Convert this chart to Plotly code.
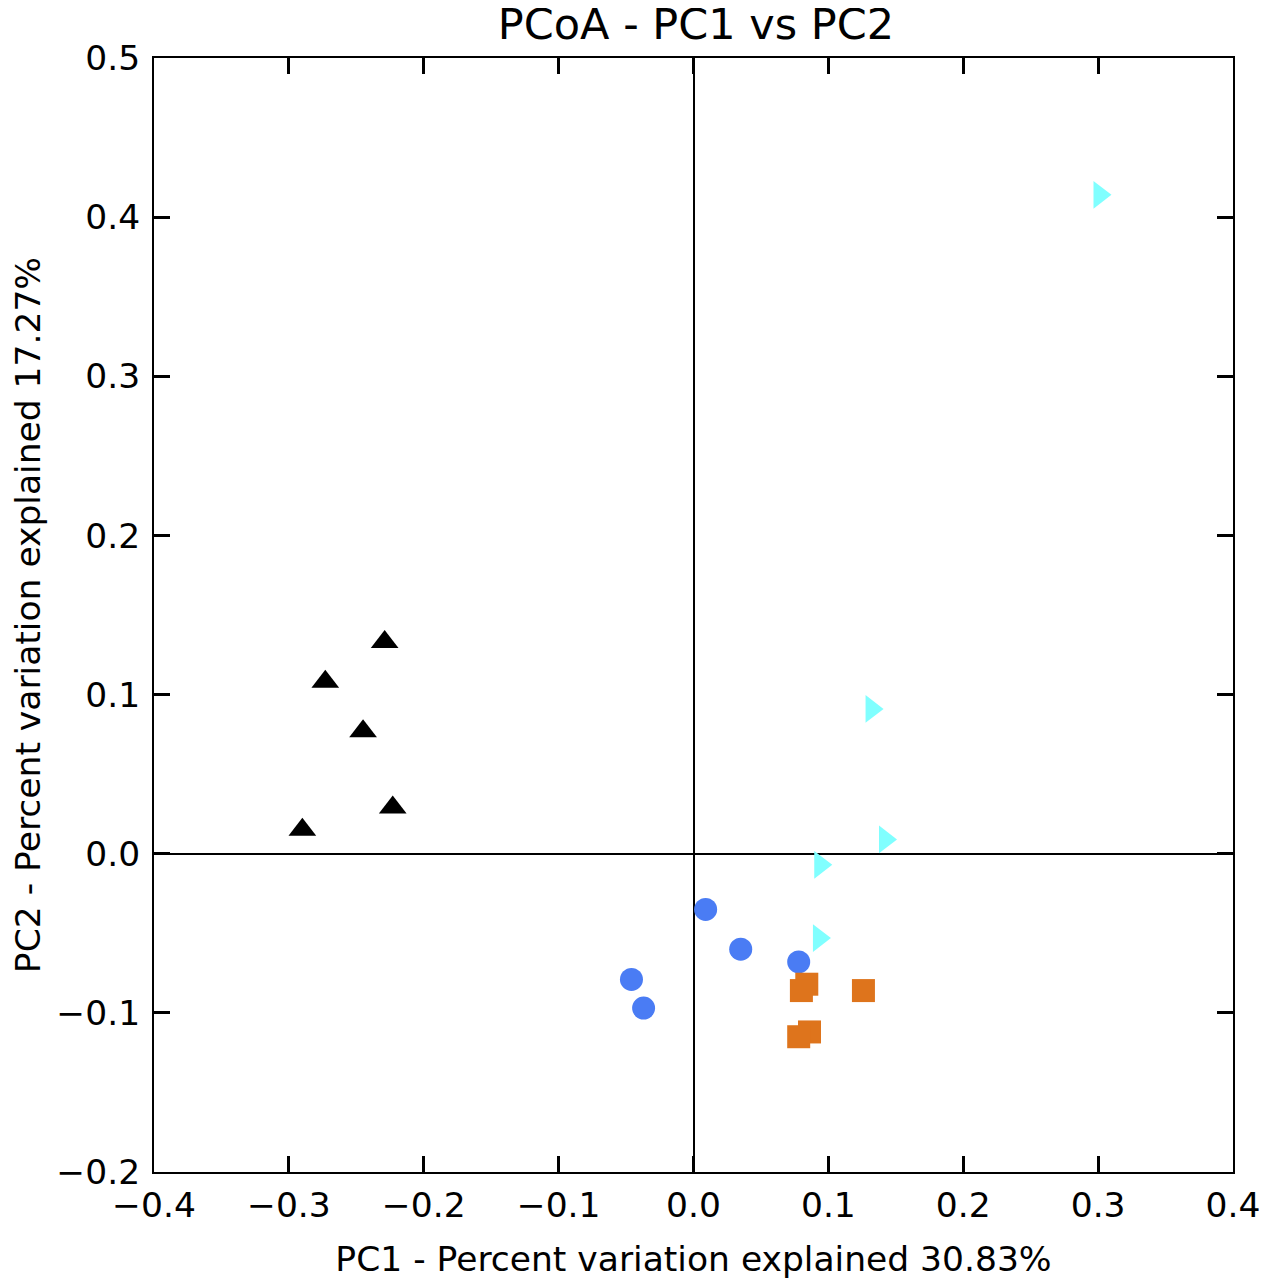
import plotly.graph_objects as go

# PCoA coordinates, one list pair per group
tri_up_x = [-0.229, -0.273, -0.245, -0.223, -0.290]
tri_up_y = [0.133, 0.108, 0.077, 0.029, 0.015]

tri_right_x = [0.301, 0.132, 0.142, 0.094, 0.093]
tri_right_y = [0.414, 0.091, 0.009, -0.007, -0.053]

circle_x = [0.009, 0.035, 0.078, -0.046, -0.037]
circle_y = [-0.035, -0.060, -0.068, -0.079, -0.097]

square_x = [0.084, 0.080, 0.126, 0.086, 0.078]
square_y = [-0.082, -0.086, -0.086, -0.112, -0.115]

x_ticks = [-0.4, -0.3, -0.2, -0.1, 0.0, 0.1, 0.2, 0.3, 0.4]
y_ticks = [-0.2, -0.1, 0.0, 0.1, 0.2, 0.3, 0.4, 0.5]

FONT = "DejaVu Sans"


def main():
    fig = go.Figure()

    fig.add_trace(go.Scatter(x=tri_up_x, y=tri_up_y, mode="markers",
                             marker=dict(symbol="triangle-up", size=24, color="#000000")))
    fig.add_trace(go.Scatter(x=tri_right_x, y=tri_right_y, mode="markers",
                             marker=dict(symbol="triangle-right", size=24, color="#80FFFF")))
    fig.add_trace(go.Scatter(x=circle_x, y=circle_y, mode="markers",
                             marker=dict(symbol="circle", size=23, color="#4A7CF4")))
    fig.add_trace(go.Scatter(x=square_x, y=square_y, mode="markers",
                             marker=dict(symbol="square", size=23, color="#DE741C")))

    axis_style = dict(
        automargin=False,
        showgrid=False,
        showline=True, linecolor="black", linewidth=2, mirror="ticks",
        ticks="inside", ticklen=16, tickwidth=3, tickcolor="black",
        zeroline=True, zerolinecolor="black", zerolinewidth=2,
        tickformat=".1f",
        tickfont=dict(family=FONT, size=34.5, color="black"),
    )

    fig.update_xaxes(range=[-0.4, 0.4], tickvals=x_ticks, ticklabelstandoff=2,
                     title=dict(text="PC1 - Percent variation explained 30.83%",
                                font=dict(family=FONT, size=34.5, color="black"), standoff=22),
                     **axis_style)
    fig.update_yaxes(range=[-0.2, 0.5], tickvals=y_ticks, ticklabelstandoff=5,
                     title=dict(text="PC2 - Percent variation explained 17.27%",
                                font=dict(family=FONT, size=34.5, color="black"), standoff=19),
                     **axis_style)

    # the page body adds an 8px margin, so the figure is 8px smaller and shifted
    fig.update_layout(
        width=1259, height=1276,
        margin=dict(l=146, r=34, t=50, b=112),
        paper_bgcolor="white", plot_bgcolor="white",
        showlegend=False,
        title=dict(text="PCoA - PC1 vs PC2", x=0.5023, xref="paper", xanchor="center",
                   y=1 - 16 / 1276, yref="container", yanchor="middle",
                   font=dict(family=FONT, size=43, color="black")),
        font=dict(family=FONT, color="black"),
    )

    fig.write_html("out.html")


if __name__ == "__main__":
    main()
